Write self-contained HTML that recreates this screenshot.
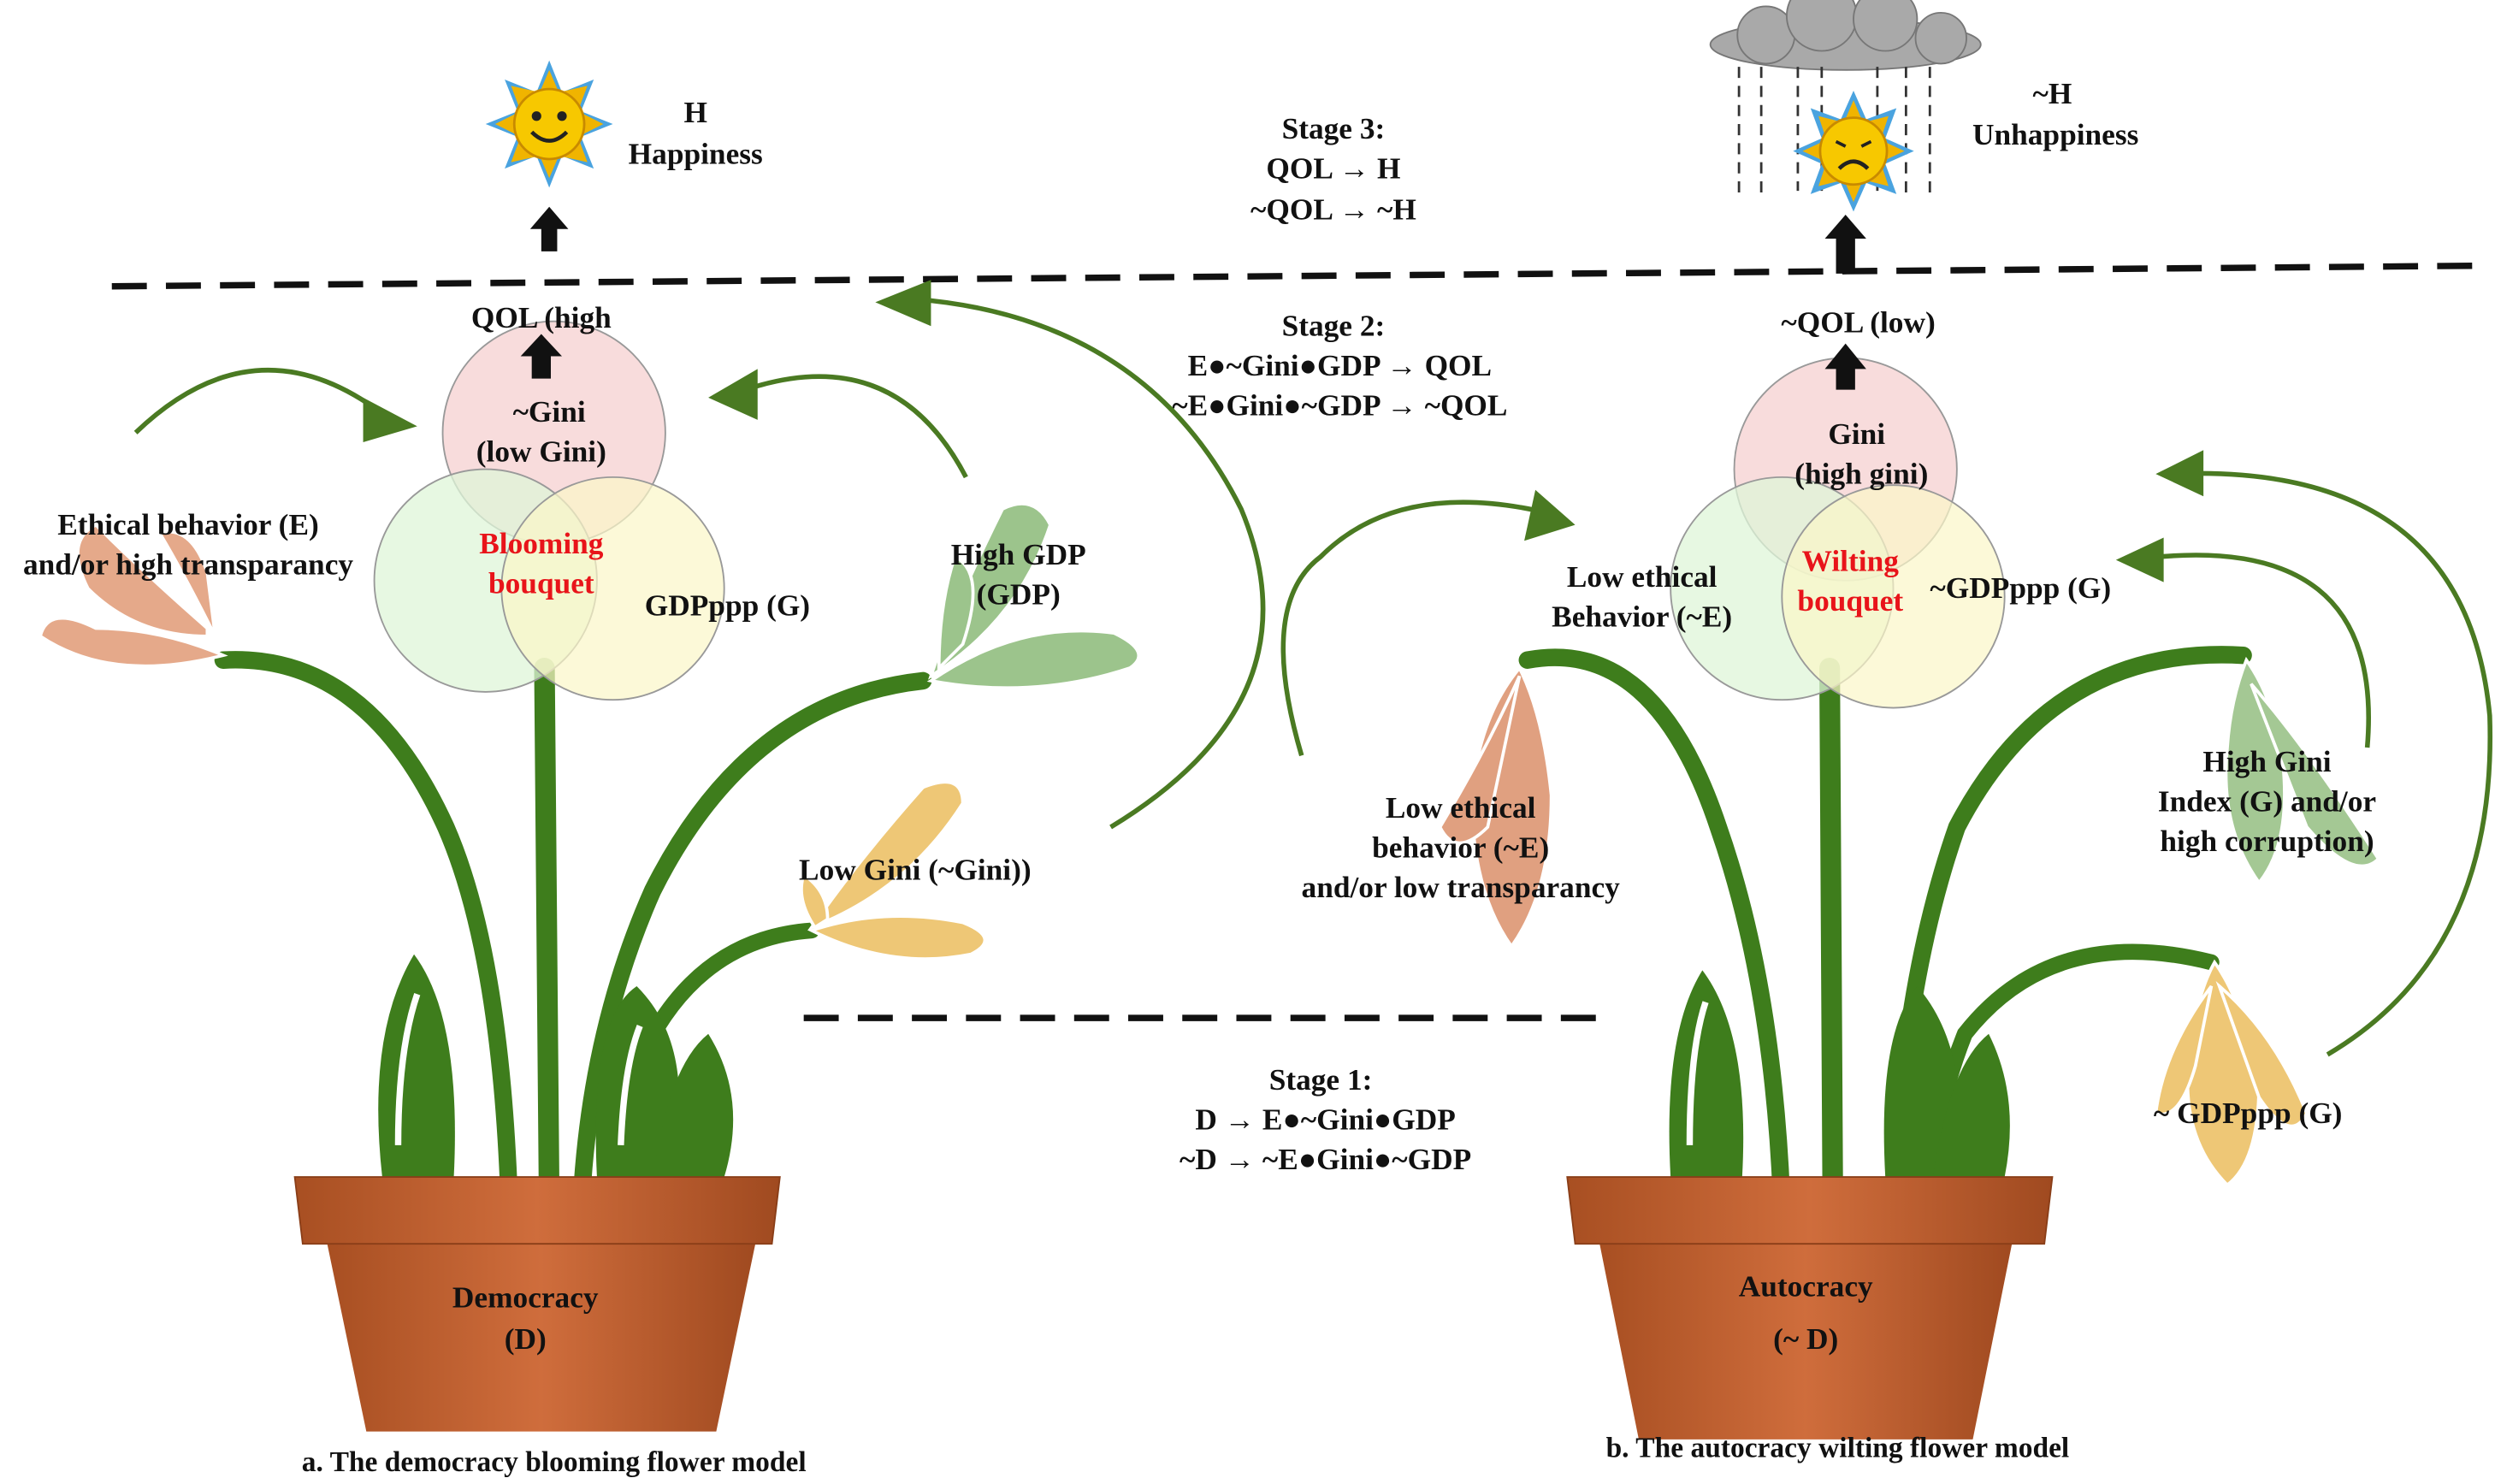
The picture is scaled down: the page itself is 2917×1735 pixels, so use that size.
<!DOCTYPE html>
<html><head><meta charset="utf-8"><style>
html,body{margin:0;padding:0;background:#fff;}
svg{display:block}
text{font-family:"Liberation Serif",serif;font-weight:bold;fill:#111;font-size:19px;text-anchor:middle}
</style></head><body>
<svg width="2917" height="1735" viewBox="0 0 1568 933" xmlns="http://www.w3.org/2000/svg">
<defs>
<linearGradient id="pot" x1="0" x2="1"><stop offset="0" stop-color="#a84f22"/><stop offset="0.5" stop-color="#cf6d3c"/><stop offset="1" stop-color="#a04a20"/></linearGradient>
</defs>
<line x1="70" y1="180" x2="1565" y2="167" stroke="#111" stroke-width="4" stroke-dasharray="22,12"/>
<line x1="505" y1="640" x2="1010" y2="640" stroke="#111" stroke-width="4" stroke-dasharray="22,12"/>

<g transform="translate(345,78)">
<polygon points="0,-40 8,-20 28,-28 20,-8 40,0 20,8 28,28 8,20 0,40 -8,20 -28,28 -20,8 -40,0 -20,-8 -28,-28 -8,-20" fill="#4aa3df"/>
<polygon points="0,-34 6,-20 24,-24 18,-8 34,0 18,8 24,24 6,20 0,34 -6,20 -24,24 -18,8 -34,0 -18,-8 -24,-24 -6,-20" fill="#f0b400"/>
<circle r="22" fill="#f7c800" stroke="#c88a00" stroke-width="1.5"/>
<circle cx="-8" cy="-5" r="3" fill="#222"/><circle cx="8" cy="-5" r="3" fill="#222"/>
<path d="M-11,5 Q0,16 11,5" stroke="#222" stroke-width="2.5" fill="none"/>
</g>
<polygon points="345,130 333,144 340,144 340,158 350,158 350,144 357,144" fill="#111"/>
<text x="437" y="77">H</text><text x="437" y="103">Happiness</text>
<text x="838" y="87">Stage 3:</text><text x="838" y="112">QOL → H</text><text x="838" y="138">~QOL → ~H</text>

<g fill="#a9a9a9" stroke="#777" stroke-width="1">
<ellipse cx="1160" cy="28" rx="85" ry="16"/>
<circle cx="1110" cy="22" r="18"/><circle cx="1145" cy="10" r="22"/><circle cx="1185" cy="12" r="20"/><circle cx="1220" cy="24" r="16"/>
</g>
<g stroke="#333" stroke-width="1.5" stroke-dasharray="7,5">
<line x1="1093" y1="42" x2="1093" y2="125"/><line x1="1107" y1="42" x2="1107" y2="125"/><line x1="1130" y1="42" x2="1130" y2="120"/><line x1="1145" y1="42" x2="1145" y2="120"/><line x1="1180" y1="42" x2="1180" y2="120"/><line x1="1198" y1="42" x2="1198" y2="125"/><line x1="1213" y1="42" x2="1213" y2="125"/>
</g>
<g transform="translate(1165,95)">
<polygon points="0,-38 8,-20 27,-27 20,-8 38,0 20,8 27,27 8,20 0,38 -8,20 -27,27 -20,8 -38,0 -20,-8 -27,-27 -8,-20" fill="#4aa3df"/>
<polygon points="0,-32 6,-18 22,-22 17,-7 32,0 17,7 22,22 6,18 0,32 -6,18 -22,22 -17,7 -32,0 -17,-7 -22,-22 -6,-18" fill="#f0b400"/>
<circle r="21" fill="#f7c800" stroke="#c88a00" stroke-width="1.5"/>
<path d="M-11,-6 l6,3 M11,-6 l-6,3" stroke="#222" stroke-width="2"/>
<path d="M-9,11 Q0,2 9,11" stroke="#222" stroke-width="2.5" fill="none"/>
</g>
<text x="1290" y="65">~H</text><text x="1292" y="91">Unhappiness</text>
<polygon points="1160,135 1147,150 1154,150 1154,172 1166,172 1166,150 1173,150" fill="#111"/>

<text x="838" y="211">Stage 2:</text><text x="842" y="236">E●~Gini●GDP → QOL</text><text x="842" y="261">~E●Gini●~GDP → ~QOL</text>

<g fill="none" stroke="#3e7d1c" stroke-linecap="round">
<path d="M342,420 L345,760" stroke-width="13"/>
<path d="M140,415 Q230,410 280,520 Q315,600 320,760" stroke-width="11"/>
<path d="M580,428 Q470,440 410,560 Q370,650 365,760" stroke-width="11"/>
<path d="M510,585 Q440,590 405,660 Q390,700 385,760" stroke-width="10"/>
</g>
<g fill="#3e7d1c">
<path d="M240,740 Q230,650 260,600 Q290,640 285,740 Z"/>
<path d="M375,740 Q370,640 400,620 Q440,660 420,740 Z"/>
<path d="M410,740 Q420,670 445,650 Q470,690 455,740 Z"/>
</g>
<path d="M250,720 Q250,660 262,625" stroke="#fff" stroke-width="4" fill="none"/>
<path d="M390,720 Q392,670 402,645" stroke="#fff" stroke-width="4" fill="none"/>

<g fill="none" stroke="#3e7d1c" stroke-linecap="round">
<path d="M1150,420 L1152,760" stroke-width="13"/>
<path d="M960,415 Q1040,400 1080,520 Q1115,620 1120,760" stroke-width="11"/>
<path d="M1410,412 Q1290,405 1230,520 Q1195,620 1190,760" stroke-width="11"/>
<path d="M1390,605 Q1290,580 1235,650 Q1215,700 1212,760" stroke-width="10"/>
</g>
<g fill="#3e7d1c">
<path d="M1050,740 Q1045,650 1070,610 Q1100,650 1095,740 Z"/>
<path d="M1185,740 Q1180,650 1205,620 Q1240,660 1230,740 Z"/>
<path d="M1215,740 Q1225,670 1250,650 Q1270,690 1260,740 Z"/>
</g>
<path d="M1062,720 Q1062,660 1072,630" stroke="#fff" stroke-width="4" fill="none"/>

<circle cx="348" cy="272" r="70" fill="#f6d0d0" fill-opacity="0.75" stroke="#999"/>
<circle cx="305" cy="365" r="70" fill="#dff5d8" fill-opacity="0.75" stroke="#999"/>
<circle cx="385" cy="370" r="70" fill="#fbf6c8" fill-opacity="0.7" stroke="#999"/>
<text x="345" y="265">~Gini</text><text x="340" y="290">(low Gini)</text>
<text x="340" y="348" style="fill:#e8141a">Blooming</text><text x="340" y="373" style="fill:#e8141a">bouquet</text>
<text x="457" y="387">GDPppp (G)</text>
<polygon points="340,210 327,224 334,224 334,238 346,238 346,224 353,224" fill="#111"/>
<text x="340" y="206">QOL (high</text>

<circle cx="1160" cy="295" r="70" fill="#f6d0d0" fill-opacity="0.75" stroke="#999"/>
<circle cx="1120" cy="370" r="70" fill="#dff5d8" fill-opacity="0.75" stroke="#999"/>
<circle cx="1190" cy="375" r="70" fill="#fbf6c8" fill-opacity="0.7" stroke="#999"/>
<text x="1167" y="279">Gini</text><text x="1170" y="304">(high gini)</text>
<text x="1163" y="359" style="fill:#e8141a">Wilting</text><text x="1163" y="384" style="fill:#e8141a">bouquet</text>
<text x="1270" y="376">~GDPppp (G)</text>
<text x="1032" y="369">Low ethical</text><text x="1032" y="394">Behavior  (~E)</text>
<polygon points="1160,216 1147,232 1154,232 1154,245 1166,245 1166,232 1173,232" fill="#111"/>
<text x="1168" y="209">~QOL (low)</text>

<g fill="#e5a98a" stroke="#fff" stroke-width="2">
<path d="M140,412 Q100,395 60,395 Q30,380 25,400 Q70,430 140,412Z"/>
<path d="M130,395 Q90,360 60,330 Q40,340 55,370 Q85,400 130,400Z"/>
<path d="M135,400 Q115,360 100,335 Q120,330 130,360Z"/>
</g>
<g fill="#9cc48c" stroke="#fff" stroke-width="2">
<path d="M585,425 Q600,380 630,320 Q650,310 660,330 Q640,390 585,425Z"/>
<path d="M585,428 Q640,390 700,398 Q725,410 710,420 Q650,440 585,428Z"/>
<path d="M590,420 Q590,380 600,350 Q620,360 605,405Z"/>
</g>
<g fill="#eec776" stroke="#fff" stroke-width="2">
<path d="M510,583 Q540,540 580,495 Q605,485 605,505 Q570,560 510,583Z"/>
<path d="M510,585 Q555,570 605,580 Q630,590 610,600 Q560,610 510,585Z"/>
<path d="M512,583 Q500,565 505,550 Q520,560 520,578Z"/>
</g>
<g fill="#e0a080" stroke="#fff" stroke-width="2">
<path d="M955,420 Q930,450 925,500 Q925,560 950,595 Q975,560 975,500 Q970,450 955,420Z"/>
<path d="M955,425 Q935,470 905,520 Q915,540 935,520Z"/>
</g>
<g fill="#a4c894" stroke="#fff" stroke-width="2">
<path d="M1412,415 Q1430,440 1435,480 Q1440,530 1420,555 Q1395,520 1400,470 Q1402,440 1412,415Z"/>
<path d="M1415,430 Q1450,470 1495,540 Q1480,555 1450,520Z"/>
</g>
<g fill="#eec776" stroke="#fff" stroke-width="2">
<path d="M1392,605 Q1410,630 1420,680 Q1420,730 1400,745 Q1375,720 1375,680 Q1378,630 1392,605Z"/>
<path d="M1395,620 Q1430,650 1450,700 Q1440,720 1420,690Z"/>
<path d="M1390,620 Q1360,660 1355,700 Q1370,705 1380,670Z"/>
</g>

<g fill="none" stroke="#4a7a22" stroke-width="3">
<path d="M85,272 Q160,200 240,260"/>
<path d="M607,300 Q560,210 460,248"/>
<path d="M698,520 Q830,440 780,320 Q720,200 575,188"/>
<path d="M818,475 Q790,380 830,350 Q880,300 975,323"/>
<path d="M1488,470 Q1500,330 1340,352"/>
<path d="M1463,663 Q1570,600 1565,450 Q1550,290 1365,298"/>
</g>
<g fill="#4a7a22">
<polygon points="228,250 262,268 228,278"/>
<polygon points="476,232 445,250 476,264"/>
<polygon points="585,176 550,190 585,205"/>
<polygon points="965,308 990,330 958,340"/>
<polygon points="1360,338 1330,352 1360,366"/>
<polygon points="1385,283 1355,298 1385,312"/>
</g>

<text x="118" y="336">Ethical behavior (E)</text><text x="118" y="361">and/or high transparancy</text>
<text x="640" y="355">High GDP</text><text x="640" y="380">(GDP)</text>
<text x="575" y="553">Low Gini (~Gini))</text>
<text x="918" y="514">Low ethical</text><text x="918" y="539">behavior (~E)</text><text x="918" y="564">and/or low transparancy</text>
<text x="1425" y="485">High Gini</text><text x="1425" y="510">Index (G) and/or</text><text x="1425" y="535">high corruption)</text>
<text x="1413" y="706">~ GDPppp (G)</text>

<text x="830" y="685">Stage 1:</text><text x="833" y="710">D → E●~Gini●GDP</text><text x="833" y="735">~D → ~E●Gini●~GDP</text>

<path d="M205,780 L230,900 L450,900 L475,780 Z" fill="url(#pot)"/>
<path d="M185,740 L490,740 L485,782 L190,782 Z" fill="url(#pot)" stroke="#8a3e18"/>
<text x="330" y="822">Democracy</text><text x="330" y="848">(D)</text>
<path d="M1005,780 L1030,905 L1240,905 L1265,780 Z" fill="url(#pot)"/>
<path d="M985,740 L1290,740 L1285,782 L990,782 Z" fill="url(#pot)" stroke="#8a3e18"/>
<text x="1135" y="815">Autocracy</text><text x="1135" y="848">(~ D)</text>

<text x="348" y="925" style="font-size:18px">a.  The democracy blooming flower model</text>
<text x="1155" y="916" style="font-size:18px">b. The autocracy wilting flower model</text>
</svg>
</body></html>
